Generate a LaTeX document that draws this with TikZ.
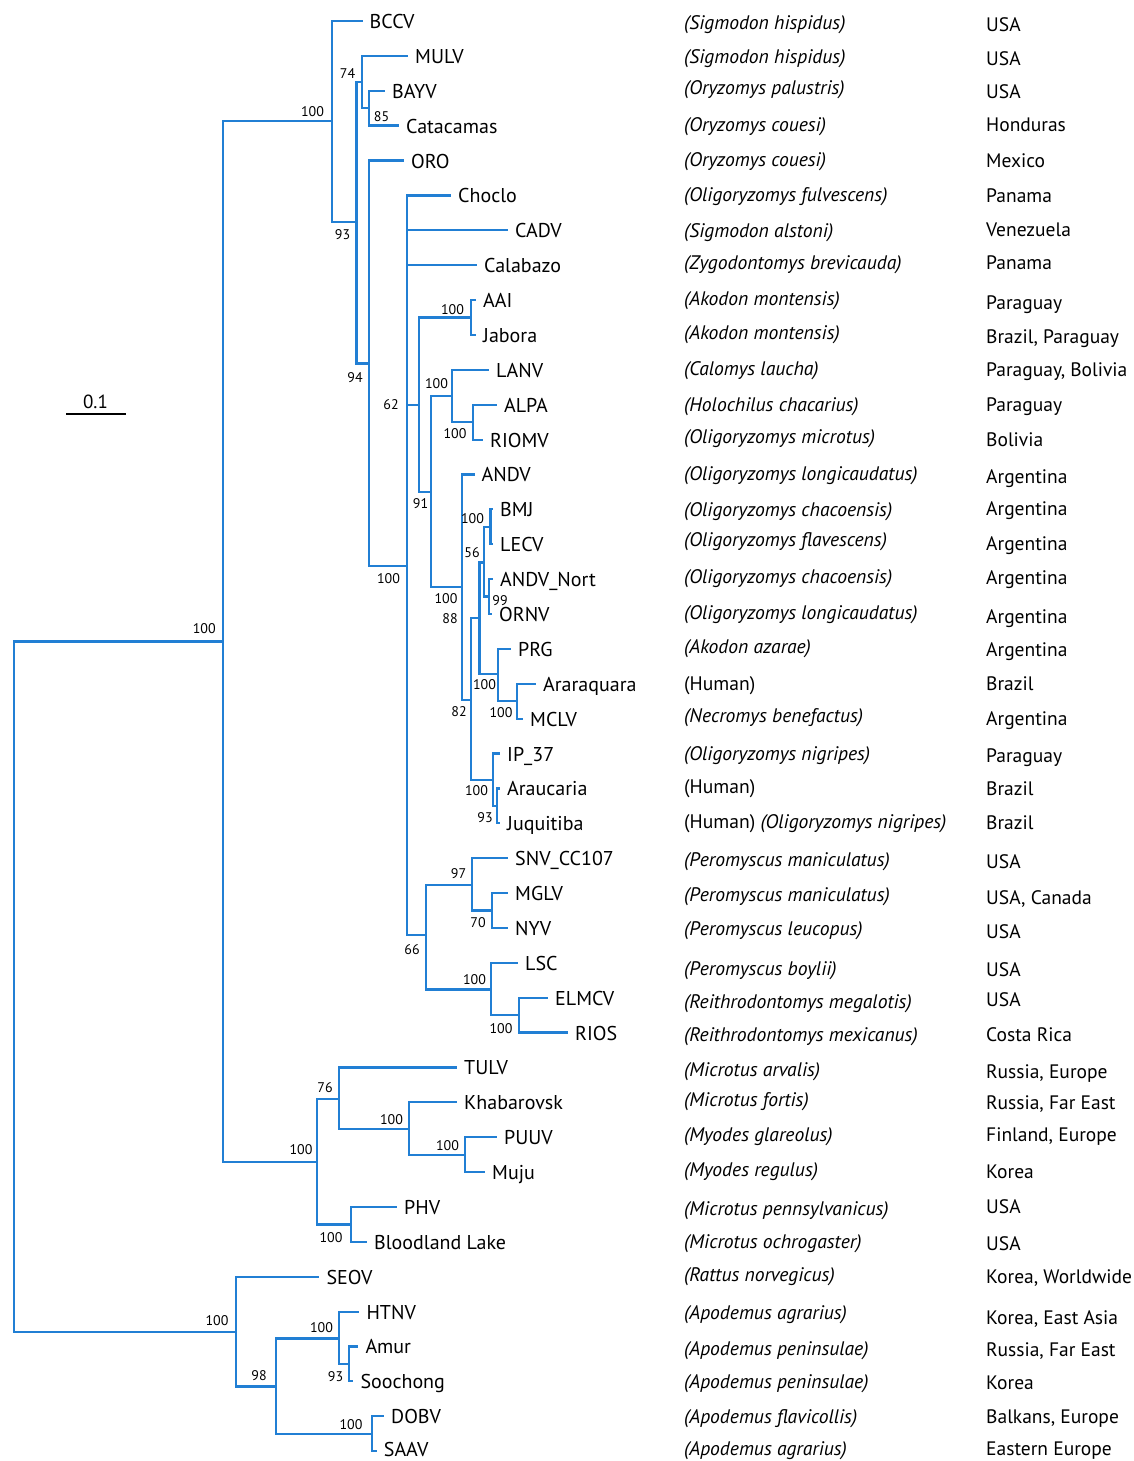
\documentclass[tikz,border=0pt]{standalone}
\usepackage{fontspec}
\setmainfont{PT Sans}
\definecolor{branch}{RGB}{33,127,212}
\newcommand\leaf[4]{\coordinate (#1) at (#2,#3); \node[taxon] (t#1) at ([xshift=7pt,yshift=-7.5pt]#1) {#4};}
\newcommand\hostrow[3]{\node[host] (h#1) at (684,#2) {#3};}
\newcommand\ctryrow[3]{\node[ctry] (c#1) at (986,#2) {#3};}
\begin{document}
\begin{tikzpicture}[x=1pt,y=-1pt,
  br/.style={draw=branch,line width=2.2pt},
  taxon/.style={anchor=base west,inner sep=0pt,font=\fontsize{20}{20}\selectfont},
  host/.style={anchor=base west,inner sep=0pt,font=\fontsize{19.6}{20}\selectfont},
  ctry/.style={anchor=base west,inner sep=0pt,font=\fontsize{19.5}{20}\selectfont},
  bs/.style={inner sep=0pt,font=\fontsize{14}{14}\selectfont}]
\useasboundingbox (0,0) rectangle (1133,1461);
% ---------- leaves ----------
\leaf{BCCV}{362.5}{21.0}{BCCV}
\leaf{MULV}{408}{55.9}{MULV}
\leaf{BAYV}{385}{90.8}{BAYV}
\leaf{CATA}{399}{125.6}{Catacamas}
\leaf{ORO}{404}{160.5}{ORO}
\leaf{CHOC}{451}{195.4}{Choclo}
\leaf{CADV}{508}{230.3}{CADV}
\leaf{CALA}{477}{265.2}{Calabazo}
\leaf{AAI}{476}{300.0}{AAI}
\leaf{JABO}{476}{334.9}{Jabora}
\leaf{LANV}{489}{369.8}{LANV}
\leaf{ALPA}{497}{404.7}{ALPA}
\leaf{RIOMV}{483}{439.6}{RIOMV}
\leaf{ANDV}{474.5}{474.4}{ANDV}
\leaf{BMJ}{493}{509.3}{BMJ}
\leaf{LECV}{493}{544.2}{LECV}
\leaf{ANDVN}{493}{579.1}{ANDV\_Nort}
\leaf{ORNV}{492}{614.0}{ORNV}
\leaf{PRG}{511}{648.8}{PRG}
\leaf{ARAR}{536}{683.7}{Araraquara}
\leaf{MCLV}{523}{718.6}{MCLV}
\leaf{IP}{500}{753.5}{IP\_37}
\leaf{ARAU}{500}{788.4}{Araucaria}
\leaf{JUQU}{500}{823.2}{Juquitiba}
\leaf{SNV}{508}{858.1}{SNV\_CC107}
\leaf{MGLV}{508}{893.0}{MGLV}
\leaf{NYV}{508}{927.9}{NYV}
\leaf{LSC}{518}{962.8}{LSC}
\leaf{ELMCV}{548}{997.6}{ELMCV}
\leaf{RIOS}{568}{1032.5}{RIOS}
\leaf{TULV}{457}{1067.4}{TULV}
\leaf{KHAB}{457}{1102.3}{Khabarovsk}
\leaf{PUUV}{497}{1137.2}{PUUV}
\leaf{MUJU}{485}{1172.0}{Muju}
\leaf{PHV}{397}{1206.9}{PHV}
\leaf{BLL}{367}{1241.8}{Bloodland Lake}
\leaf{SEOV}{319.3}{1276.7}{SEOV}
\leaf{HTNV}{359.3}{1311.6}{HTNV}
\leaf{AMUR}{358.3}{1346.4}{Amur}
\leaf{SOOC}{353.3}{1381.3}{Soochong}
\leaf{DOBV}{384}{1416.2}{DOBV}
\coordinate (SAAV) at (376.7,1451.1);
\node[taxon] (tSAAV) at ([xshift=7pt,yshift=-5.5pt]SAAV) {SAAV};
% ---------- internal nodes ----------
\coordinate (root) at (14,986);
\coordinate (A) at (222.7,641.5);
\coordinate (H) at (235.7,1332);
\coordinate (S) at (332.3,121.4);
\coordinate (n93) at (356.5,222);
\coordinate (n74) at (362.2,82);
\coordinate (n85) at (369.3,108.2);
\coordinate (n94) at (369,363.5);
\coordinate (na) at (407,566);
\coordinate (n62) at (419,405);
\coordinate (nb) at (471,317.5);
\coordinate (n91) at (431,492);
\coordinate (nc) at (452.3,396);
\coordinate (ne) at (473.3,422.2);
\coordinate (nd) at (462.3,587);
\coordinate (n82) at (471.2,700);
\coordinate (n88) at (479.5,618);
\coordinate (n56) at (483.7,562.5);
\coordinate (ng) at (490.5,526.8);
\coordinate (n99) at (489.3,596.5);
\coordinate (nf) at (498.3,674);
\coordinate (nh) at (517,701.2);
\coordinate (nip) at (493.3,780);
\coordinate (n93b) at (497.3,805.8);
\coordinate (n66) at (426,935);
\coordinate (n97) at (472.3,885);
\coordinate (n70) at (492.3,910.5);
\coordinate (ni) at (491,989.5);
\coordinate (nj) at (519,1015);
\coordinate (V) at (317.3,1162);
\coordinate (n76) at (339,1099);
\coordinate (nl) at (409.3,1129.3);
\coordinate (nm) at (465,1154.6);
\coordinate (nk) at (350.7,1224.4);
\coordinate (n98) at (275.7,1386.4);
\coordinate (nn) at (339.3,1338.5);
\coordinate (n93c) at (349.3,1363.9);
\coordinate (no) at (371.7,1433.6);
% ---------- branches ----------
\foreach \p/\c in {root/A, root/H,
  A/S, A/V,
  S/BCCV, S/n93,
  n93/n74, n93/n94,
  n74/MULV, n74/n85,
  n85/BAYV, n85/CATA,
  n94/ORO, n94/na,
  na/CHOC, na/CADV, na/CALA, na/n62, na/n66,
  n62/nb, n62/n91,
  nb/AAI, nb/JABO,
  n91/nc, n91/nd,
  nc/LANV, nc/ne,
  ne/ALPA, ne/RIOMV,
  nd/ANDV, nd/n82,
  n82/n88, n82/nip,
  n88/n56, n88/nf,
  n56/ng, n56/n99,
  ng/BMJ, ng/LECV,
  n99/ANDVN, n99/ORNV,
  nf/PRG, nf/nh,
  nh/ARAR, nh/MCLV,
  nip/IP, nip/n93b,
  n93b/ARAU, n93b/JUQU,
  n66/n97, n66/ni,
  n97/SNV, n97/n70,
  n70/MGLV, n70/NYV,
  ni/LSC, ni/nj,
  nj/ELMCV, nj/RIOS,
  V/n76, V/nk,
  n76/TULV, n76/nl,
  nl/KHAB, nl/nm,
  nm/PUUV, nm/MUJU,
  nk/PHV, nk/BLL,
  H/SEOV, H/n98,
  n98/nn, n98/no,
  nn/HTNV, nn/n93c,
  n93c/AMUR, n93c/SOOC,
  no/DOBV, no/SAAV}
  {\draw[br] (\p) |- (\c);}
% ---------- bootstrap values ----------
\node[bs] (b1) at (204.3,629) {100};
\node[bs] (b2) at (312.5,112) {100};
\node[bs] (b3) at (342.5,235) {93};
\node[bs] (b4) at (347.5,74) {74};
\node[bs] (b5) at (381.5,117) {85};
\node[bs] (b6) at (355,378) {94};
\node[bs] (b7) at (391,405) {62};
\node[bs] (b8) at (388.5,579) {100};
\node[bs] (b9) at (452.5,309.5) {100};
\node[bs] (b10) at (436.5,384) {100};
\node[bs] (b11) at (455,434) {100};
\node[bs] (b12) at (420.5,504) {91};
\node[bs] (b13) at (472.5,519) {100};
\node[bs] (b14) at (472,553) {56};
\node[bs] (b15) at (500,601) {99};
\node[bs] (b16) at (446,599) {100};
\node[bs] (b17) at (450,619) {88};
\node[bs] (b18) at (484.5,685) {100};
\node[bs] (b19) at (501,712.5) {100};
\node[bs] (b20) at (459,712) {82};
\node[bs] (b21) at (476.5,791) {100};
\node[bs] (b22) at (485,818) {93};
\node[bs] (b23) at (458.5,874) {97};
\node[bs] (b24) at (478,923) {70};
\node[bs] (b25) at (412,950) {66};
\node[bs] (b26) at (474.5,980) {100};
\node[bs] (b27) at (501,1029) {100};
\node[bs] (b28) at (325,1088) {76};
\node[bs] (b29) at (391.5,1120) {100};
\node[bs] (b30) at (447.5,1146) {100};
\node[bs] (b31) at (301,1150) {100};
\node[bs] (b32) at (331,1238) {100};
\node[bs] (b33) at (217,1321) {100};
\node[bs] (b34) at (259,1375.5) {98};
\node[bs] (b35) at (321.5,1328) {100};
\node[bs] (b36) at (335.5,1377) {93};
\node[bs] (b37) at (351,1424.5) {100};
% ---------- scale bar ----------
\coordinate (sbl) at (66,414);
\coordinate (sbr) at (125.5,414);
\draw[line width=2pt] (sbl) -- (sbr);
\node[inner sep=0pt,anchor=base,font=\fontsize{19}{19}\selectfont] (sbt) at (95.5,408.5) {0.1};
% ---------- hosts ----------
\hostrow{1}{29.3}{\textit{(Sigmodon hispidus)}}
\hostrow{2}{63.3}{\textit{(Sigmodon hispidus)}}
\hostrow{3}{95}{\textit{(Oryzomys palustris)}}
\hostrow{4}{131.7}{\textit{(Oryzomys couesi)}}
\hostrow{5}{166.7}{\textit{(Oryzomys couesi)}}
\hostrow{6}{201.7}{\textit{(Oligoryzomys fulvescens)}}
\hostrow{7}{237.3}{\textit{(Sigmodon alstoni)}}
\hostrow{8}{269.3}{\textit{(Zygodontomys brevicauda)}}
\hostrow{9}{305}{\textit{(Akodon montensis)}}
\hostrow{10}{339.3}{\textit{(Akodon montensis)}}
\hostrow{11}{375}{\textit{(Calomys laucha)}}
\hostrow{12}{411.7}{\textit{(Holochilus chacarius)}}
\hostrow{13}{443.3}{\textit{(Oligoryzomys microtus)}}
\hostrow{14}{480.7}{\textit{(Oligoryzomys longicaudatus)}}
\hostrow{15}{516}{\textit{(Oligoryzomys chacoensis)}}
\hostrow{16}{546.7}{\textit{(Oligoryzomys flavescens)}}
\hostrow{17}{583.3}{\textit{(Oligoryzomys chacoensis)}}
\hostrow{18}{619.3}{\textit{(Oligoryzomys longicaudatus)}}
\hostrow{19}{653.3}{\textit{(Akodon azarae)}}
\hostrow{20}{690}{(Human)}
\hostrow{21}{722.7}{\textit{(Necromys benefactus)}}
\hostrow{22}{760}{\textit{(Oligoryzomys nigripes)}}
\hostrow{23}{793.3}{(Human)}
\hostrow{24}{828.3}{(Human) \textit{(Oligoryzomys nigripes)}}
\hostrow{25}{866}{\textit{(Peromyscus maniculatus)}}
\hostrow{26}{901.7}{\textit{(Peromyscus maniculatus)}}
\hostrow{27}{935}{\textit{(Peromyscus leucopus)}}
\hostrow{28}{975}{\textit{(Peromyscus boylii)}}
\hostrow{29}{1008.3}{\textit{(Reithrodontomys megalotis)}}
\hostrow{30}{1041.7}{\textit{(Reithrodontomys mexicanus)}}
\hostrow{31}{1076}{\textit{(Microtus arvalis)}}
\hostrow{32}{1106.7}{\textit{(Microtus fortis)}}
\hostrow{33}{1141.7}{\textit{(Myodes glareolus)}}
\hostrow{34}{1176.7}{\textit{(Myodes regulus)}}
\hostrow{35}{1215}{\textit{(Microtus pennsylvanicus)}}
\hostrow{36}{1248.3}{\textit{(Microtus ochrogaster)}}
\hostrow{37}{1281}{\textit{(Rattus norvegicus)}}
\hostrow{38}{1319.3}{\textit{(Apodemus agrarius)}}
\hostrow{39}{1355}{\textit{(Apodemus peninsulae)}}
\hostrow{40}{1388.3}{\textit{(Apodemus peninsulae)}}
\hostrow{41}{1423.3}{\textit{(Apodemus flavicollis)}}
\hostrow{42}{1455.5}{\textit{(Apodemus agrarius)}}
% ---------- countries ----------
\ctryrow{1}{31.7}{USA}
\ctryrow{2}{65.7}{USA}
\ctryrow{3}{98.3}{USA}
\ctryrow{4}{131.7}{Honduras}
\ctryrow{5}{167.3}{Mexico}
\ctryrow{6}{202.3}{Panama}
\ctryrow{7}{236.7}{Venezuela}
\ctryrow{8}{269.3}{Panama}
\ctryrow{9}{309.3}{Paraguay}
\ctryrow{10}{343.3}{Brazil, Paraguay}
\ctryrow{11}{376}{Paraguay, Bolivia}
\ctryrow{12}{411.7}{Paraguay}
\ctryrow{13}{446}{Bolivia}
\ctryrow{14}{483.3}{Argentina}
\ctryrow{15}{515}{Argentina}
\ctryrow{16}{550}{Argentina}
\ctryrow{17}{584}{Argentina}
\ctryrow{18}{623.3}{Argentina}
\ctryrow{19}{656.7}{Argentina}
\ctryrow{20}{690}{Brazil}
\ctryrow{21}{725}{Argentina}
\ctryrow{22}{762.7}{Paraguay}
\ctryrow{23}{795}{Brazil}
\ctryrow{24}{829.3}{Brazil}
\ctryrow{25}{868.3}{USA}
\ctryrow{26}{904.3}{USA, Canada}
\ctryrow{27}{938.3}{USA}
\ctryrow{28}{976.7}{USA}
\ctryrow{29}{1006}{USA}
\ctryrow{30}{1041.7}{Costa Rica}
\ctryrow{31}{1078.3}{Russia, Europe}
\ctryrow{32}{1109.3}{Russia, Far East}
\ctryrow{33}{1141.7}{Finland, Europe}
\ctryrow{34}{1178.3}{Korea}
\ctryrow{35}{1213.3}{USA}
\ctryrow{36}{1250}{USA}
\ctryrow{37}{1283.3}{Korea, Worldwide}
\ctryrow{38}{1324}{Korea, East Asia}
\ctryrow{39}{1356.7}{Russia, Far East}
\ctryrow{40}{1389.3}{Korea}
\ctryrow{41}{1423.3}{Balkans, Europe}
\ctryrow{42}{1455.5}{Eastern Europe}
\end{tikzpicture}
\end{document}
